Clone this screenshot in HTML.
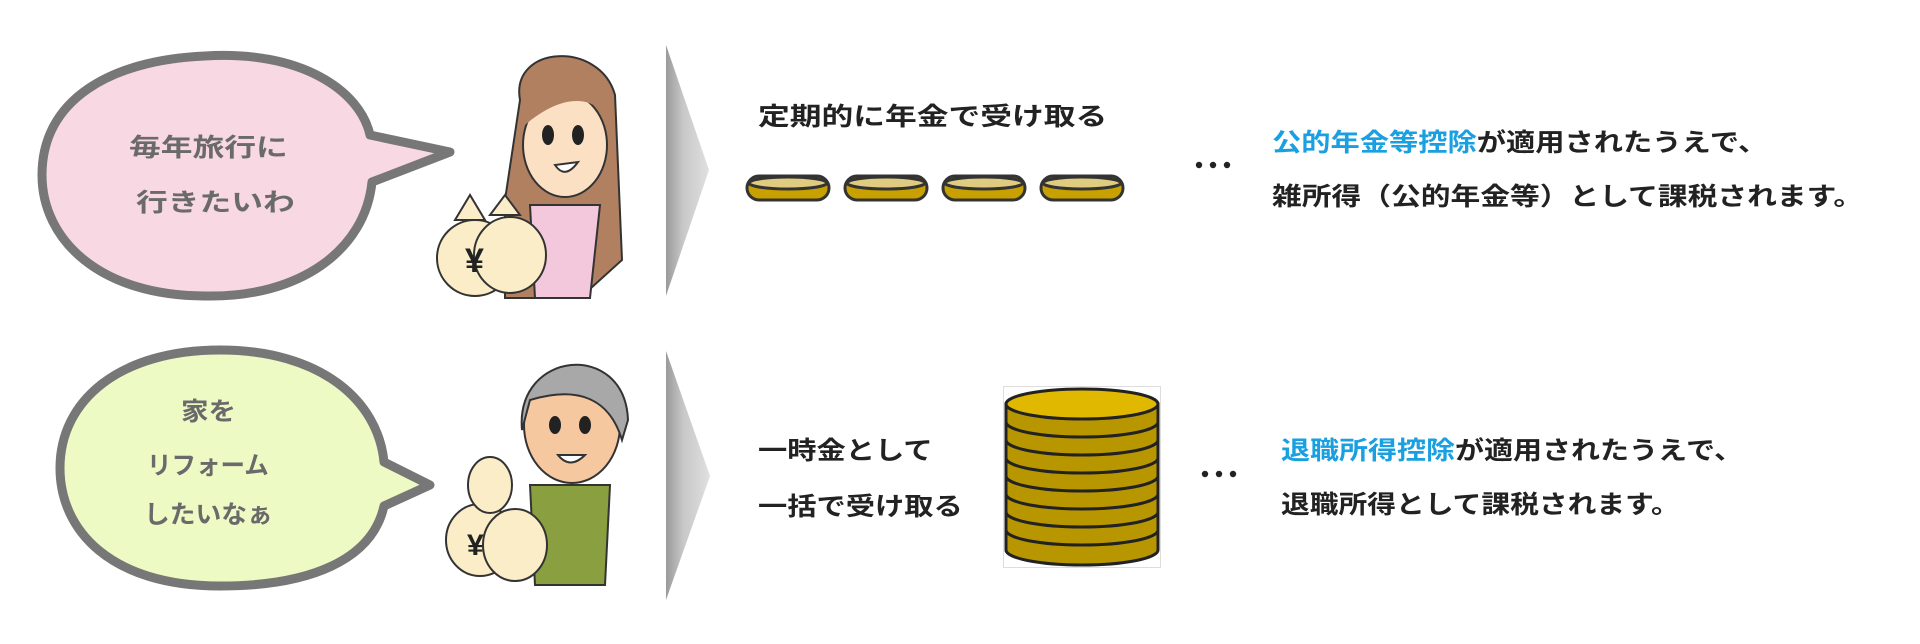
<!DOCTYPE html>
<html><head><meta charset="utf-8"><style>
html,body{margin:0;padding:0;background:#fff;}
#w{position:relative;width:1920px;height:644px;overflow:hidden;background:#fff;}
.t{position:absolute;white-space:nowrap;font-family:"Liberation Sans","Noto Sans CJK JP",sans-serif;font-weight:bold;font-size:25px;line-height:25px;transform-origin:0 0;color:#222;}
.g{color:#6a6a6a;}
.b{color:#1aa0e0;}
</style></head><body><div id="w">
<svg width="1920" height="644" style="position:absolute;left:0;top:0">
<defs>
<linearGradient id="ar" x1="0" x2="1" y1="0" y2="0"><stop offset="0" stop-color="#9a9a9a"/><stop offset="0.4" stop-color="#c8c8c8"/><stop offset="1" stop-color="#e0e0e0"/></linearGradient>
</defs>
<path d="M205,56 C300,50 360,90 370,135 L450,152 L372,182 C365,250 300,298 205,296 C100,296 42,240 42,175 C42,100 110,60 205,56 Z" fill="#f8d8e2" stroke="#777" stroke-width="9" stroke-linejoin="round"/>
<path d="M220,350 C320,350 378,400 384,462 L430,485 L384,506 C372,560 310,586 220,586 C110,586 60,530 60,468 C60,400 120,350 220,350 Z" fill="#eefac4" stroke="#777" stroke-width="9" stroke-linejoin="round"/>
<path d="M666,45 L709,170 L666,296 Z" fill="url(#ar)"/>
<path d="M666,351 L710,476 L666,600 Z" fill="url(#ar)"/>
<g>
<path d="M520,100 C510,45 600,40 615,95 L622,260 L580,298 L505,298 L505,200 Z" fill="#b08060" stroke="#333" stroke-width="2"/>
<ellipse cx="565" cy="145" rx="42" ry="52" fill="#fce0c4" stroke="#333" stroke-width="2"/>
<path d="M525,125 C535,75 600,75 605,115 C590,95 560,95 525,125 Z" fill="#b08060"/>
<ellipse cx="548" cy="135" rx="6" ry="10" fill="#222"/><ellipse cx="578" cy="135" rx="6" ry="10" fill="#222"/>
<path d="M555,165 Q565,180 578,162 Z" fill="#fff" stroke="#333" stroke-width="2"/>
<path d="M530,205 L600,205 L590,298 L535,298 Z" fill="#f4c8dc" stroke="#333" stroke-width="2"/>
<ellipse cx="475" cy="258" rx="38" ry="38" fill="#fbedc8" stroke="#333" stroke-width="2"/>
<ellipse cx="510" cy="255" rx="36" ry="38" fill="#fbedc8" stroke="#333" stroke-width="2"/>
<path d="M455,220 L470,195 L485,220 Z M490,215 L505,195 L520,215 Z" fill="#fbedc8" stroke="#333" stroke-width="2"/>
<text x="465" y="272" font-family="Liberation Sans" font-weight="bold" font-size="34" fill="#222">¥</text>
</g>
<g>
<ellipse cx="572" cy="425" rx="48" ry="58" fill="#f6c8a0" stroke="#333" stroke-width="2"/>
<path d="M522,430 C515,350 625,340 628,420 L622,440 C610,400 580,385 530,400 Z" fill="#a8a8a8" stroke="#333" stroke-width="2"/>
<ellipse cx="555" cy="425" rx="6" ry="9" fill="#222"/><ellipse cx="585" cy="425" rx="6" ry="9" fill="#222"/>
<path d="M558,455 Q570,470 585,455 Z" fill="#fff" stroke="#333" stroke-width="2"/>
<path d="M530,485 L610,485 L605,585 L535,585 Z" fill="#8aa040" stroke="#333" stroke-width="2"/>
<ellipse cx="480" cy="540" rx="34" ry="36" fill="#fbedc8" stroke="#333" stroke-width="2"/>
<ellipse cx="515" cy="545" rx="32" ry="36" fill="#fbedc8" stroke="#333" stroke-width="2"/>
<ellipse cx="490" cy="485" rx="22" ry="28" fill="#fbedc8" stroke="#333" stroke-width="2"/>
<text x="467" y="555" font-family="Liberation Sans" font-weight="bold" font-size="30" fill="#222">¥</text>
</g>
<g stroke="#333" stroke-width="3">
<g><rect x="747" y="176" width="82" height="24" rx="12" fill="#c8a000"/><ellipse cx="788" cy="183" rx="39" ry="6" fill="#e0cc80"/></g>
<g><rect x="845" y="176" width="82" height="24" rx="12" fill="#c8a000"/><ellipse cx="886" cy="183" rx="39" ry="6" fill="#e0cc80"/></g>
<g><rect x="943" y="176" width="82" height="24" rx="12" fill="#c8a000"/><ellipse cx="984" cy="183" rx="39" ry="6" fill="#e0cc80"/></g>
<g><rect x="1041" y="176" width="82" height="24" rx="12" fill="#c8a000"/><ellipse cx="1082" cy="183" rx="39" ry="6" fill="#e0cc80"/></g>
</g>
<g fill="#222">
<circle cx="1199" cy="165" r="3.2"/><circle cx="1213" cy="165" r="3.2"/><circle cx="1227" cy="165" r="3.2"/>
<circle cx="1205" cy="474" r="3.2"/><circle cx="1219" cy="474" r="3.2"/><circle cx="1233" cy="474" r="3.2"/>
</g>
<rect x="1003.5" y="386.5" width="157" height="181" fill="#fff" stroke="#ddd"/>
<g stroke="#222" stroke-width="3">
<path d="M1006,404 L1006,550 A76,15 0 0 0 1158,550 L1158,404 Z" fill="#b89600"/>
<g fill="none">
<path d="M1006,422 A76,15 0 0 0 1158,422"/><path d="M1006,440 A76,15 0 0 0 1158,440"/>
<path d="M1006,458 A76,15 0 0 0 1158,458"/><path d="M1006,476 A76,15 0 0 0 1158,476"/>
<path d="M1006,494 A76,15 0 0 0 1158,494"/><path d="M1006,512 A76,15 0 0 0 1158,512"/>
<path d="M1006,530 A76,15 0 0 0 1158,530"/>
</g>
<ellipse cx="1082" cy="404" rx="76" ry="15" fill="#e0b800"/>
</g>
</svg>
<div class="t g" style="left:129px;top:136px;transform:scaleX(1.27)">毎年旅行に</div>
<div class="t g" style="left:136px;top:191px;transform:scaleX(1.27)">行きたいわ</div>
<div class="t g" style="left:181px;top:400px;transform:scaleX(1.1)">家を</div>
<div class="t g" style="left:147px;top:454px;transform:scaleX(0.98)">リフォーム</div>
<div class="t g" style="left:144px;top:503px;transform:scaleX(1.03)">したいなぁ</div>
<div class="t" style="left:758px;top:105px;transform:scaleX(1.27)">定期的に年金で受け取る</div>
<div class="t" style="left:758px;top:439px;transform:scaleX(1.17)">一時金として</div>
<div class="t" style="left:758px;top:495px;transform:scaleX(1.17)">一括で受け取る</div>
<div class="t" style="left:1272px;top:131px;transform:scaleX(1.17)"><span class="b">公的年金等控除</span>が適用されたうえで、</div>
<div class="t" style="left:1272px;top:185px;transform:scaleX(1.19)">雑所得（公的年金等）として課税されます。</div>
<div class="t" style="left:1281px;top:439px;transform:scaleX(1.16)"><span class="b">退職所得控除</span>が適用されたうえで、</div>
<div class="t" style="left:1281px;top:493px;transform:scaleX(1.15)">退職所得として課税されます。</div>
</div></body></html>
